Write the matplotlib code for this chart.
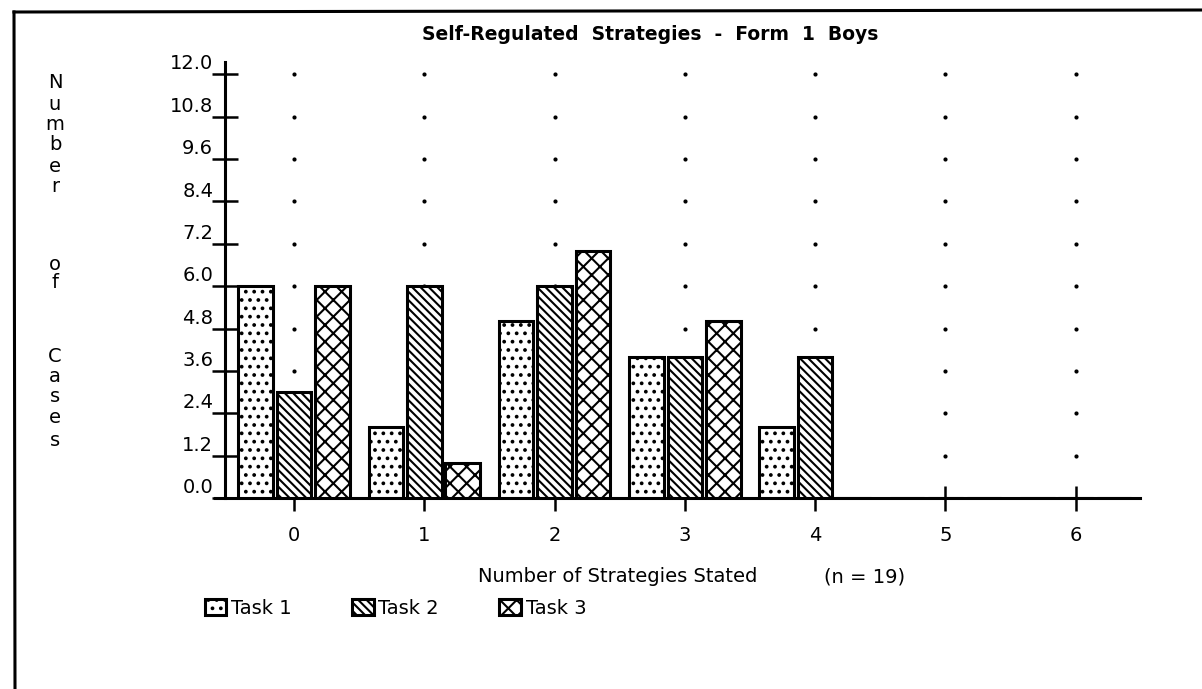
#!/usr/bin/env python3
import matplotlib
matplotlib.use("Agg")
import matplotlib.pyplot as plt
from matplotlib.lines import Line2D
import numpy as np

categories = [0, 1, 2, 3, 4, 5, 6]
task1 = [6, 2, 5, 4, 2, 0, 0]
task2 = [3, 6, 6, 4, 4, 0, 0]
task3 = [6, 1, 7, 5, 0, 0, 0]
series_names = ["Task 1", "Task 2", "Task 3"]
ytick_vals = [0.0, 1.2, 2.4, 3.6, 4.8, 6.0, 7.2, 8.4, 9.6, 10.8, 12.0]
ylabel_letters = ["N", "u", "m", "b", "e", "r", "o", "f", "C", "a", "s", "e", "s"]
ylabel_rows = [82, 104, 125, 145, 167, 187, 265, 283, 357, 376, 397, 417, 440]

W, H = 1202, 689
plt.rcParams['hatch.linewidth'] = 1.5
plt.rcParams['font.family'] = ['DejaVu Sans']

fig = plt.figure(figsize=(W / 100, H / 100), dpi=100)
fig.patch.set_facecolor('white')

# axes placed so that category 0 sits at x=294px, y=0 at 498px
ax = fig.add_axes([215 / W, 1 - 498 / H, (1140 - 215) / W, (498 - 62) / H])
ax.set_xlim(-0.606, 6.493)
ax.set_ylim(0, 12.35)
ax.patch.set_alpha(0)

x = np.array(categories, dtype=float)
offsets = [-0.295, 0.0, 0.295]
hatches = ['..', '\\\\\\\\', 'xx']
bars = []
for vals, off, h, name in zip([task1, task2, task3], offsets, hatches, series_names):
    b = ax.bar(x + off, vals, width=0.265, color='white', edgecolor='black',
               linewidth=2.2, hatch=h, zorder=3, label=name)
    bars.append(b)

# dotted grid
gx, gy = np.meshgrid(categories, ytick_vals[1:])
ax.scatter(gx.ravel(), gy.ravel(), s=9, color='black', linewidths=0, zorder=1)

for s in ['top', 'right']:
    ax.spines[s].set_visible(False)
ax.spines['left'].set_position(('data', -0.53))
ax.spines['left'].set_linewidth(2.2)
ax.spines['bottom'].set_linewidth(2.2)

ax.set_xticks(categories)
ax.set_xticklabels([str(c) for c in categories])
ax.tick_params(axis='x', direction='inout', length=18, width=1.8, pad=11,
               labelsize=14, colors='black')
ax.set_yticks(ytick_vals)
ax.tick_params(axis='y', direction='inout', length=19, width=1.8, labelleft=False)
for v in ytick_vals:
    ax.text(-0.62, v + 0.14, f"{v:.1f}", ha='right', va='baseline',
            fontsize=14, clip_on=False)

fig.text(650 / W, 1 - 35 / H, "Self-Regulated  Strategies  -  Form  1  Boys",
         ha='center', va='center', fontsize=13.5, fontweight='bold')

for letter, row in zip(ylabel_letters, ylabel_rows):
    fig.text(55 / W, 1 - row / H, letter, ha='center', va='center', fontsize=14)

fig.text(478 / W, 1 - 577 / H, "Number of Strategies Stated",
         ha='left', va='center', fontsize=14)
fig.text(905 / W, 1 - 577 / H, "(n = 19)", ha='right', va='center', fontsize=14)

leg = ax.legend(handles=bars, labels=series_names, ncol=3, frameon=False,
                loc='center left', bbox_to_anchor=(205 / W, 1 - 608 / H),
                bbox_transform=fig.transFigure, fontsize=14,
                handlelength=1.1, handleheight=0.85, handletextpad=0.25,
                columnspacing=3.1, borderpad=0, borderaxespad=0)

# scanned page border
fig.add_artist(Line2D([14 / W, 1.0], [1 - 12 / H, 1 - 10 / H],
                      transform=fig.transFigure, color='black', lw=2.2))
fig.add_artist(Line2D([14 / W, 15 / W], [1 - 12 / H, 0.0],
                      transform=fig.transFigure, color='black', lw=2.2))

fig.savefig("out.png", dpi=100)
